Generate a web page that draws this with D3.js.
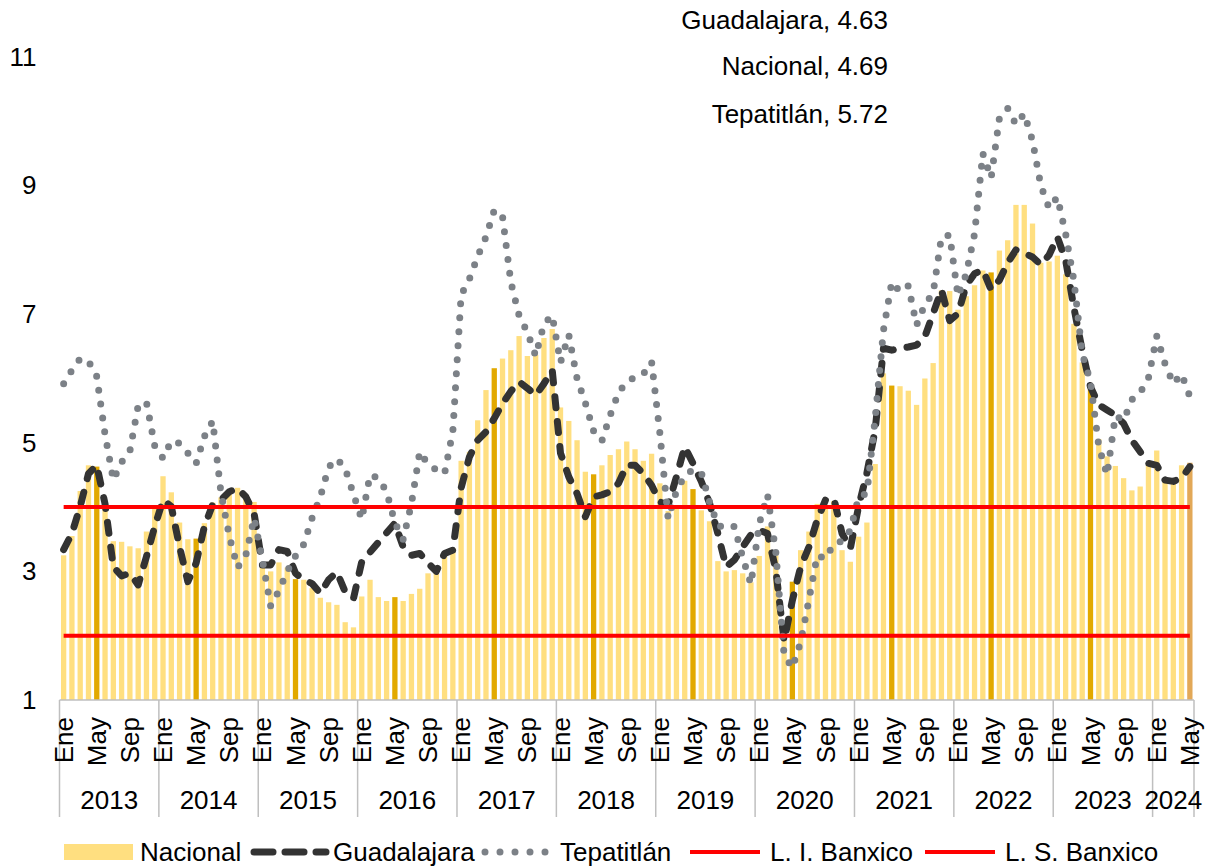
<!DOCTYPE html>
<html>
<head>
<meta charset="utf-8">
<script src="https://cdn.jsdelivr.net/npm/d3@7"></script>
<style>
    body { margin: 0; background: #fff; }
    #chart-area { width: 1212px; height: 867px; }
    text { font-family: "Liberation Sans", Arial, sans-serif; fill: #000; }
</style>
</head>
<body>
<div id="chart-area"></div>
<script>
// Years shown on the axis and the months kept for the last (partial) year
const years = ["2013", "2014", "2015", "2016", "2017", "2018", "2019", "2020", "2021", "2022", "2023", "2024"];
const monthNames = ["Ene", "Feb", "Mar", "Abr", "May", "Jun", "Jul", "Ago", "Sep", "Oct", "Nov", "Dic"];
const shownMonths = ["Ene", "May", "Sep"];
const monthsLastYear = 5;

// Annual inflation, %, Ene 2013 - May 2024
const nacional = [
    3.25, 3.55, 4.25, 4.65, 4.63, 4.09, 3.47, 3.46, 3.39, 3.36, 3.62, 3.97,
    4.48, 4.23, 3.76, 3.50, 3.51, 3.75, 4.07, 4.15, 4.22, 4.30, 4.17, 4.08,
    3.07, 3.00, 3.14, 3.06, 2.88, 2.87, 2.74, 2.59, 2.52, 2.48, 2.21, 2.13,
    2.61, 2.87, 2.60, 2.54, 2.60, 2.54, 2.65, 2.73, 2.97, 3.06, 3.31, 3.36,
    4.72, 4.86, 5.35, 5.82, 6.16, 6.31, 6.44, 6.66, 6.35, 6.37, 6.63, 6.77,
    5.55, 5.34, 5.04, 4.55, 4.51, 4.65, 4.81, 4.90, 5.02, 4.90, 4.72, 4.83,
    4.37, 3.94, 4.00, 4.41, 4.28, 3.95, 3.78, 3.16, 3.00, 3.02, 2.97, 2.83,
    3.24, 3.70, 3.25, 2.15, 2.84, 3.33, 3.62, 4.05, 4.01, 4.09, 3.33, 3.15,
    3.54, 3.76, 4.67, 6.08, 5.89, 5.88, 5.81, 5.59, 6.00, 6.24, 7.37, 7.36,
    7.07, 7.28, 7.45, 7.68, 7.65, 7.99, 8.15, 8.70, 8.70, 8.41, 7.80, 7.82,
    7.91, 7.62, 6.85, 6.25, 5.84, 5.06, 4.79, 4.64, 4.45, 4.26, 4.32, 4.66,
    4.88, 4.40, 4.42, 4.65, 4.69
];

const guadalajara = [
    3.34, 3.59, 4.01, 4.52, 4.65, 4.05, 3.07, 2.93, 2.97, 2.79, 3.23, 3.70,
    4.11, 4.01, 3.38, 2.84, 3.13, 3.70, 4.04, 4.11, 4.24, 4.29, 4.16, 3.90,
    3.10, 3.10, 3.34, 3.31, 2.97, 2.87, 2.81, 2.66, 2.87, 2.99, 2.68, 2.58,
    3.15, 3.30, 3.45, 3.60, 3.75, 3.38, 3.25, 3.28, 3.13, 3.00, 3.28, 3.33,
    4.30, 4.78, 5.04, 5.17, 5.38, 5.61, 5.80, 5.95, 5.85, 5.74, 5.92, 6.13,
    4.84, 4.47, 4.21, 3.85, 4.16, 4.19, 4.24, 4.37, 4.65, 4.65, 4.52, 4.34,
    4.08, 4.03, 4.47, 4.94, 4.68, 4.40, 4.06, 3.59, 3.07, 3.18, 3.38, 3.57,
    3.64, 3.59, 3.02, 1.92, 2.55, 3.07, 3.38, 3.80, 4.11, 4.14, 3.59, 3.36,
    4.01, 4.53, 5.20, 6.47, 6.44, 6.47, 6.49, 6.52, 6.65, 7.01, 7.38, 6.90,
    7.01, 7.45, 7.63, 7.69, 7.38, 7.53, 7.80, 8.00, 7.95, 7.89, 7.77, 7.92,
    8.20, 7.84, 7.10, 6.44, 5.87, 5.59, 5.51, 5.43, 5.30, 5.04, 4.86, 4.68,
    4.65, 4.42, 4.40, 4.45, 4.63
];

const tepatitlan = [
    5.92, 6.13, 6.31, 6.27, 6.03, 5.13, 4.42, 4.70, 4.87, 5.58, 5.63, 4.95,
    4.76, 5.03, 4.99, 4.84, 4.68, 5.10, 5.34, 4.22, 3.55, 3.06, 3.25, 3.83,
    3.18, 2.46, 2.70, 3.00, 3.24, 3.42, 3.83, 4.16, 4.62, 4.75, 4.60, 4.20,
    3.81, 4.50, 4.45, 4.24, 3.76, 3.50, 4.05, 4.86, 4.67, 4.58, 4.52, 5.18,
    7.30, 7.55, 7.90, 8.20, 8.62, 8.52, 7.50, 6.98, 6.72, 6.35, 6.85, 6.98,
    6.25, 6.68, 6.00, 5.62, 5.18, 5.03, 5.43, 5.78, 5.95, 6.02, 6.07, 6.26,
    5.15, 3.82, 4.25, 4.49, 4.58, 4.54, 4.08, 3.72, 3.67, 3.70, 3.22, 2.80,
    3.74, 4.19, 3.30, 1.70, 1.50, 1.90, 2.56, 3.25, 3.20, 3.43, 3.47, 3.64,
    4.15, 4.22, 5.38, 6.75, 7.50, 7.35, 7.44, 6.83, 7.15, 7.33, 8.20, 8.23,
    7.28, 7.63, 8.25, 9.50, 9.12, 10.05, 10.20, 9.95, 10.12, 9.70, 9.00, 8.65,
    8.82, 8.25, 7.52, 6.39, 5.95, 4.95, 4.50, 5.42, 5.35, 5.67, 5.78, 6.01,
    6.66, 6.23, 5.92, 6.07, 5.72
];

// Banxico target band
const limiteInferior = 2;
const limiteSuperior = 4;

const yTicks = [1, 3, 5, 7, 9, 11];

class InflationChart {
    constructor(parentElement) {
        this.parentElement = parentElement;
        this.initVis();
    }

    initVis() {
        let vis = this;

        vis.width = 1212;
        vis.height = 867;

        vis.svg = d3.select("#" + vis.parentElement).append("svg")
            .attr("width", vis.width)
            .attr("height", vis.height);

        // one entry per month
        vis.months = [];
        years.forEach((yr, yi) => {
            let count = yi === years.length - 1 ? monthsLastYear : 12;
            for (let m = 0; m < count; m++) {
                vis.months.push({year: yr, month: monthNames[m], idx: vis.months.length});
            }
        });

        vis.x = d3.scaleBand()
            .domain(vis.months.map(d => d.idx))
            .range([59.5, 1194])
            .paddingInner(0.36)
            .paddingOuter(0.18);

        vis.y = d3.scaleLinear()
            .domain([1, 11])
            .range([700, 57]);

        vis.updateVis();
    }

    updateVis() {
        let vis = this;
        let n = vis.months.length;
        let cx = i => vis.x(i) + vis.x.bandwidth() / 2;
        let edge = i => vis.x.range()[0] + vis.x.step() * i;

        // Bars (Nacional)
        vis.svg.append("g").selectAll(".bar")
            .data(vis.months)
            .enter()
            .append("rect")
            .attr("class", "bar")
            .attr("x", d => vis.x(d.idx))
            .attr("y", d => vis.y(nacional[d.idx]))
            .attr("width", vis.x.bandwidth())
            .attr("height", d => vis.y(1) - vis.y(nacional[d.idx]))
            .attr("fill", function(d) {
                if (d.idx === n - 1) {
                    return "#E2A857";
                } else if (d.month === "May") {
                    return "#E2A900";
                } else {
                    return "#FFDF80";
                }
            });

        let line = d3.line()
            .x((d, i) => cx(i))
            .y(d => vis.y(d));

        // Guadalajara
        vis.svg.append("path")
            .datum(guadalajara)
            .attr("d", line)
            .attr("fill", "none")
            .attr("stroke", "#333333")
            .attr("stroke-width", 7)
            .attr("stroke-dasharray", "11,14")
            .attr("stroke-linecap", "round")
            .attr("stroke-linejoin", "round");

        // Tepatitlán
        vis.svg.append("path")
            .datum(tepatitlan)
            .attr("d", line)
            .attr("fill", "none")
            .attr("stroke", "#7C8187")
            .attr("stroke-width", 7)
            .attr("stroke-dasharray", "0,14")
            .attr("stroke-linecap", "round")
            .attr("stroke-linejoin", "round");

        // Banxico limits
        [limiteInferior, limiteSuperior].forEach(lim => {
            vis.svg.append("path")
                .datum(vis.months.map(() => lim))
                .attr("d", line)
                .attr("fill", "none")
                .attr("stroke", "#FF0000")
                .attr("stroke-width", 4);
        });

        // Y axis (labels only)
        let yAxis = d3.axisLeft(vis.y)
            .tickValues(yTicks)
            .tickSize(0)
            .tickPadding(23);

        vis.svg.append("g")
            .attr("class", "y-axis")
            .attr("transform", "translate(59.5,0)")
            .call(yAxis)
            .call(g => g.select(".domain").remove())
            .call(g => g.selectAll("text")
                .attr("font-size", "26px")
                .attr("font-family", "Liberation Sans, Arial, sans-serif")
                .attr("fill", "#000"));

        // X axis line
        vis.svg.append("line")
            .attr("x1", edge(0))
            .attr("x2", edge(n))
            .attr("y1", vis.y(1))
            .attr("y2", vis.y(1))
            .attr("stroke", "#BFBFBF")
            .attr("stroke-width", 1.5);

        // Year separators and labels
        let yearStarts = years.map(yr => vis.months.find(d => d.year === yr).idx);
        let boundaries = yearStarts.concat([n]);

        vis.svg.append("g").selectAll(".sep")
            .data(boundaries)
            .enter()
            .append("line")
            .attr("class", "sep")
            .attr("x1", d => edge(d))
            .attr("x2", d => edge(d))
            .attr("y1", vis.y(1))
            .attr("y2", 817)
            .attr("stroke", "#BFBFBF")
            .attr("stroke-width", 1.5);

        vis.svg.append("g").selectAll(".year")
            .data(years)
            .enter()
            .append("text")
            .attr("class", "year")
            .attr("x", (d, i) => (edge(boundaries[i]) + edge(boundaries[i + 1])) / 2)
            .attr("y", 809)
            .attr("text-anchor", "middle")
            .attr("font-size", "26px")
            .text(d => d);

        // Month labels
        vis.svg.append("g").selectAll(".month")
            .data(vis.months.filter(d => shownMonths.includes(d.month)))
            .enter()
            .append("text")
            .attr("class", "month")
            .attr("transform", d => "translate(" + cx(d.idx) + ",717) rotate(-90)")
            .attr("dy", "0.35em")
            .attr("text-anchor", "end")
            .attr("font-size", "26px")
            .text(d => d.month);

        // Last-value labels
        let lastLabels = [
            {name: "Guadalajara", value: guadalajara[n - 1], y: 29},
            {name: "Nacional", value: nacional[n - 1], y: 75},
            {name: "Tepatitlán", value: tepatitlan[n - 1], y: 123}
        ];
        vis.svg.append("g").selectAll(".last")
            .data(lastLabels)
            .enter()
            .append("text")
            .attr("x", 888)
            .attr("y", d => d.y)
            .attr("text-anchor", "end")
            .attr("font-size", "26px")
            .text(d => d.name + ", " + d.value.toFixed(2));

        // Legend
        let lg = vis.svg.append("g").attr("class", "legend");
        let ly = 852;

        lg.append("rect")
            .attr("x", 64).attr("y", 844)
            .attr("width", 69).attr("height", 16)
            .attr("fill", "#FFDF80");
        lg.append("text").attr("x", 140).attr("y", ly + 9).attr("font-size", "26px").text("Nacional");

        lg.append("line")
            .attr("x1", 254).attr("x2", 326).attr("y1", ly).attr("y2", ly)
            .attr("stroke", "#333333").attr("stroke-width", 7)
            .attr("stroke-dasharray", "19,12").attr("stroke-linecap", "round");
        lg.append("text").attr("x", 333).attr("y", ly + 9).attr("font-size", "26px").text("Guadalajara");

        lg.append("line")
            .attr("x1", 485).attr("x2", 546).attr("y1", ly).attr("y2", ly)
            .attr("stroke", "#7C8187").attr("stroke-width", 7)
            .attr("stroke-dasharray", "0,15").attr("stroke-linecap", "round");
        lg.append("text").attr("x", 560).attr("y", ly + 9).attr("font-size", "26px").text("Tepatitlán");

        lg.append("line")
            .attr("x1", 690).attr("x2", 760).attr("y1", ly).attr("y2", ly)
            .attr("stroke", "#FF0000").attr("stroke-width", 4);
        lg.append("text").attr("x", 770).attr("y", ly + 9).attr("font-size", "26px").text("L. I. Banxico");

        lg.append("line")
            .attr("x1", 925).attr("x2", 995).attr("y1", ly).attr("y2", ly)
            .attr("stroke", "#FF0000").attr("stroke-width", 4);
        lg.append("text").attr("x", 1005).attr("y", ly + 9).attr("font-size", "26px").text("L. S. Banxico");
    }
}

new InflationChart("chart-area");
</script>
</body>
</html>
